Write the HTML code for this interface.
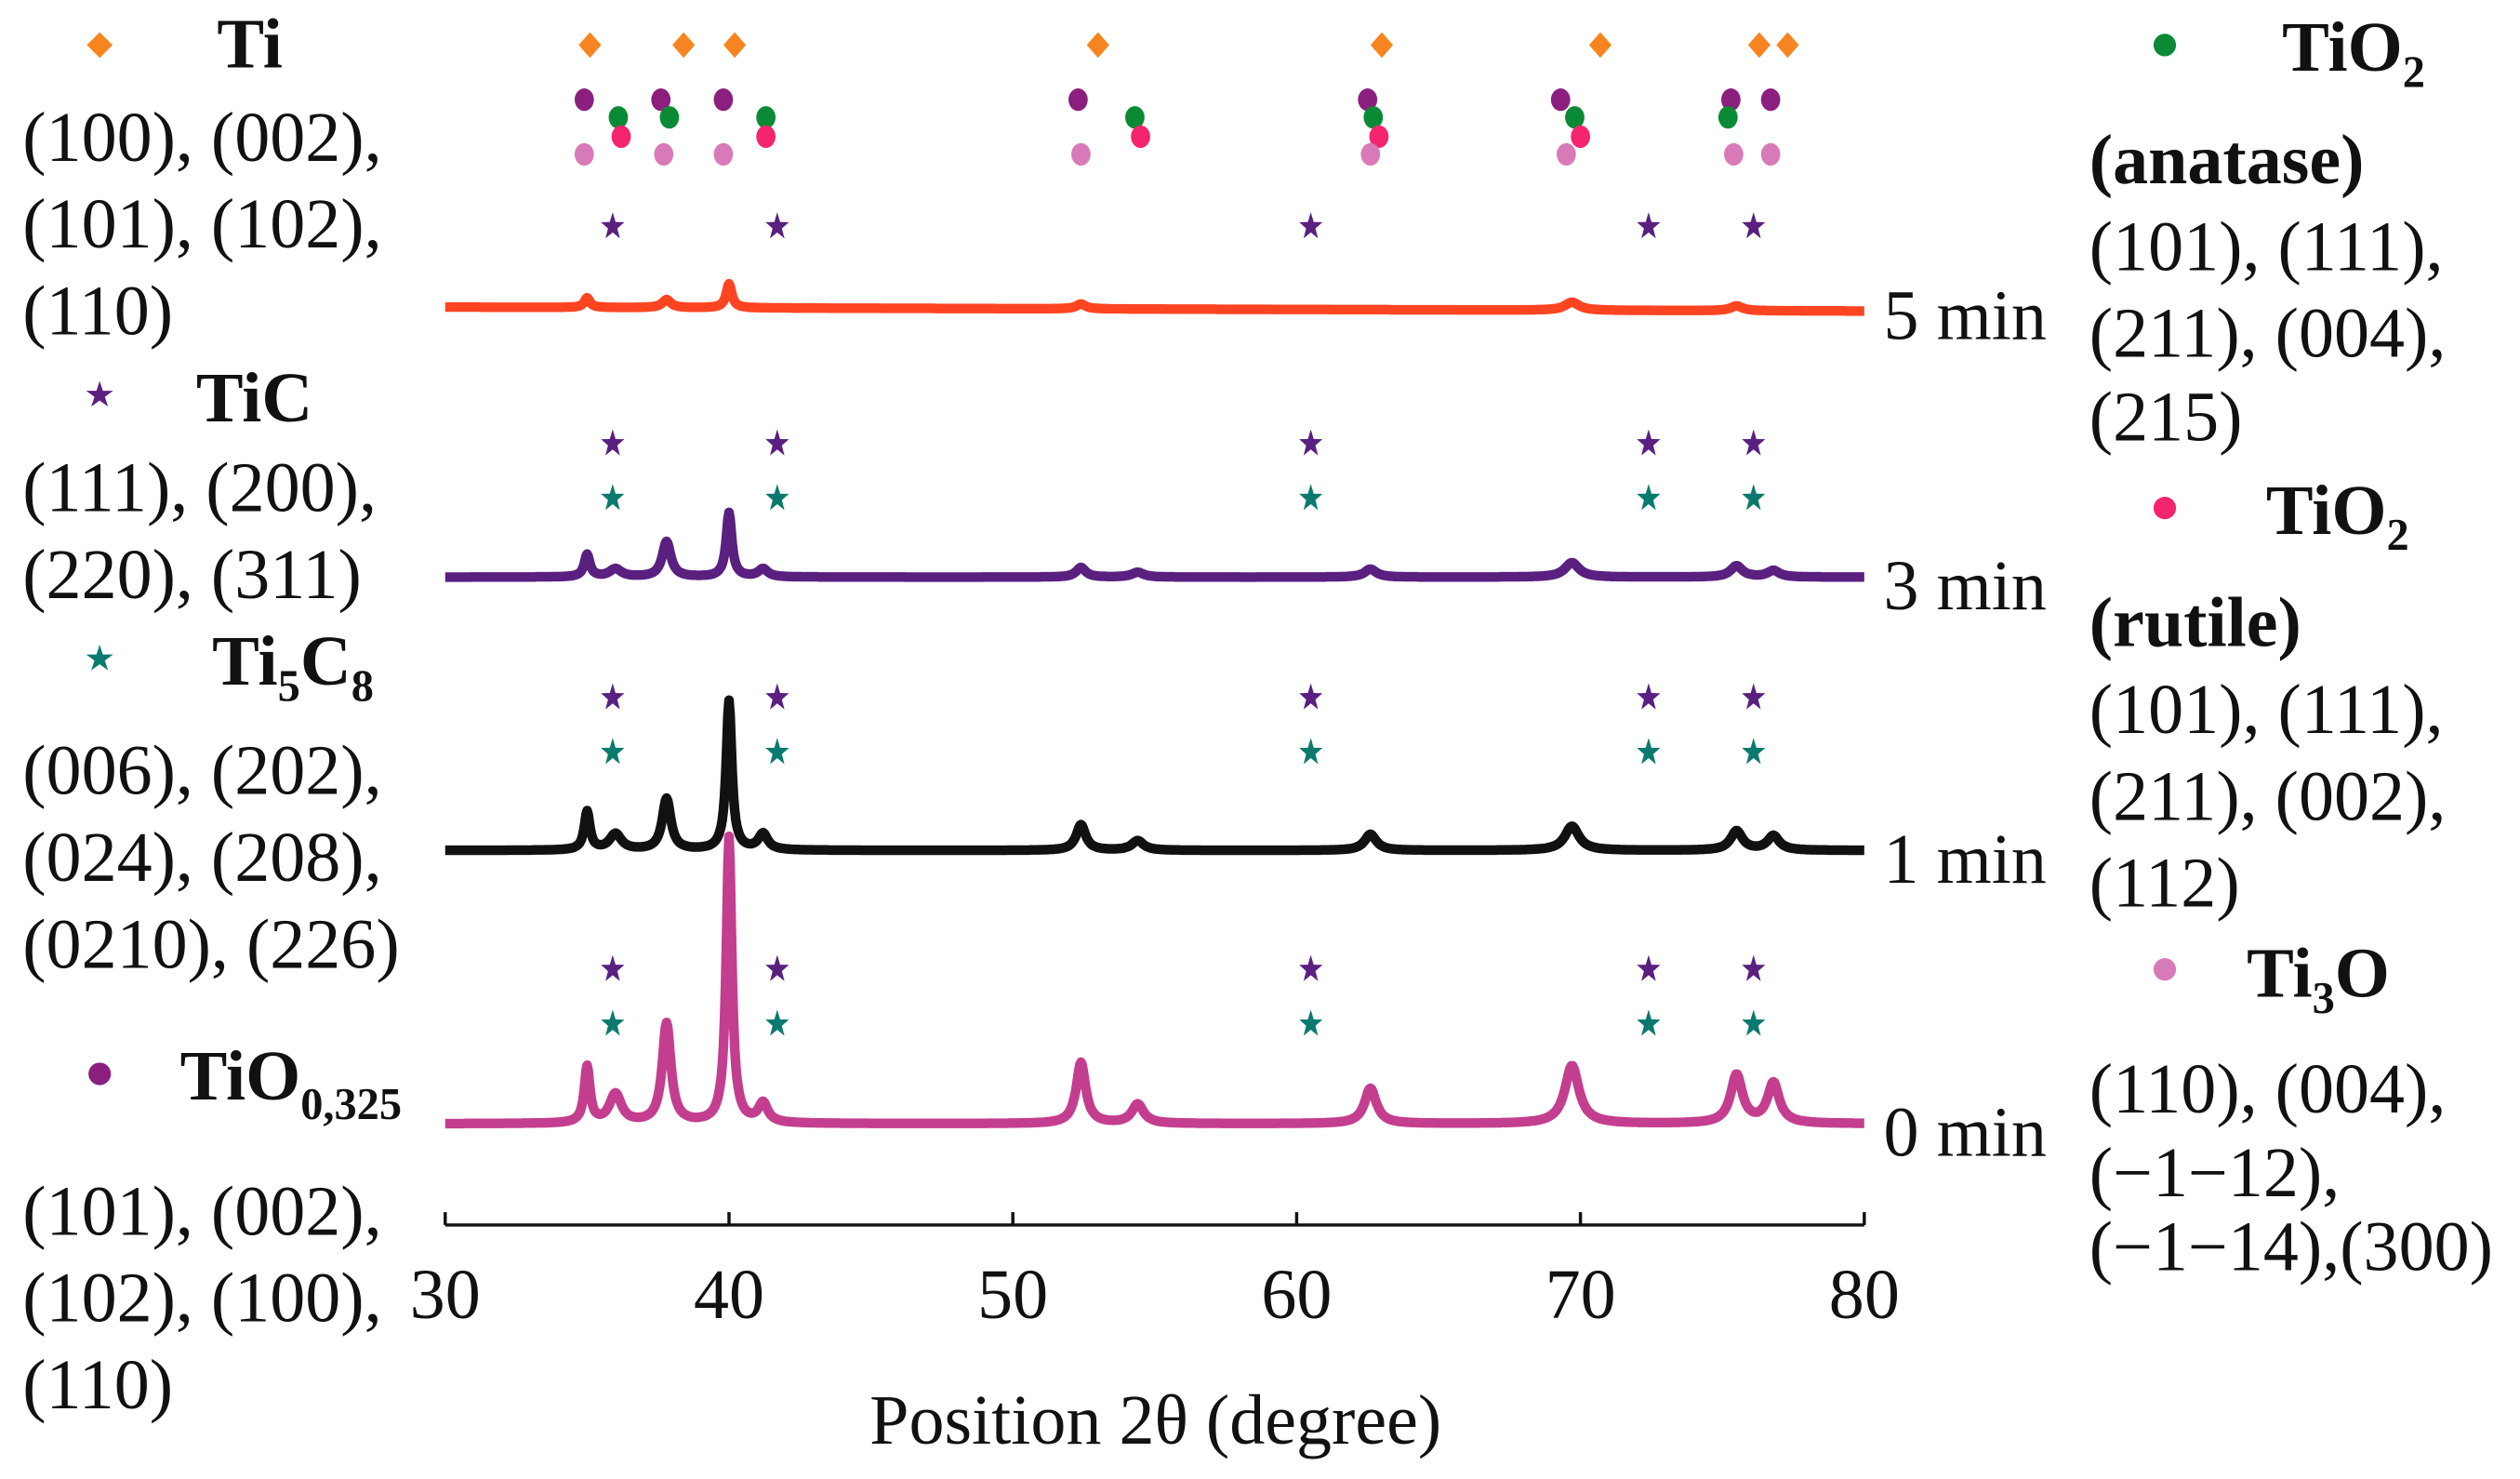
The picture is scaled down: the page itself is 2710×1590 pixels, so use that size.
<!DOCTYPE html>
<html><head><meta charset="utf-8"><style>
html,body{margin:0;padding:0;background:#fff}
svg{display:block}
text{font-family:"Liberation Serif",serif;fill:#111}
.b{font-weight:bold}
</style></head><body>
<svg id="c" width="2710" height="1590" viewBox="0 0 1568 920" xmlns="http://www.w3.org/2000/svg">
<g id="traces"></g>
<g id="markers"></g>
<g id="axis"></g>
<text x="719" y="898" font-size="44" text-anchor="middle">Position 2θ (degree)</text>

<g font-size="44">
<path d="M62 20 L70 28 L62 36 L54 28Z" fill="#f7851f"/>
<text x="135" y="42" class="b">Ti</text>
<text x="14" y="100">(100), (002),</text>
<text x="14" y="154">(101), (102),</text>
<text x="14" y="208">(110)</text>
<text x="62" y="253" font-size="22" text-anchor="middle" style="fill:#5a2080">★</text>
<text x="122" y="262" class="b">TiC</text>
<text x="14" y="318">(111), (200),</text>
<text x="14" y="372">(220), (311)</text>
<text x="62" y="417" font-size="22" text-anchor="middle" style="fill:#0b7a6e">★</text>
<text x="132" y="426" class="b">Ti<tspan font-size="28" dy="10">5</tspan><tspan dy="-10">C</tspan><tspan font-size="28" dy="10">8</tspan></text>
<text x="14" y="494">(006), (202),</text>
<text x="14" y="548">(024), (208),</text>
<text x="14" y="602">(0210), (226)</text>
<circle cx="62" cy="668" r="7" fill="#8b1f7e"/>
<text x="112" y="684" class="b">TiO<tspan font-size="28" dy="12">0,325</tspan></text>
<text x="14" y="768">(101), (002),</text>
<text x="14" y="822">(102), (100),</text>
<text x="14" y="876">(110)</text>
</g>

<g font-size="44">
<circle cx="1347" cy="28" r="7" fill="#0a8a35"/>
<text x="1420" y="44" class="b">TiO<tspan font-size="28" dy="10">2</tspan></text>
<text x="1300" y="114" class="b">(anatase)</text>
<text x="1300" y="168">(101), (111),</text>
<text x="1300" y="222">(211), (004),</text>
<text x="1300" y="274">(215)</text>
<circle cx="1347" cy="316" r="7" fill="#f4246e"/>
<text x="1410" y="332" class="b">TiO<tspan font-size="28" dy="10">2</tspan></text>
<text x="1300" y="402" class="b">(rutile)</text>
<text x="1300" y="456">(101), (111),</text>
<text x="1300" y="510">(211), (002),</text>
<text x="1300" y="564">(112)</text>
<circle cx="1347" cy="603" r="7" fill="#d97ab8"/>
<text x="1398" y="620" class="b">Ti<tspan font-size="28" dy="10">3</tspan><tspan dy="-10">O</tspan></text>
<text x="1300" y="692">(110), (004),</text>
<text x="1300" y="744">(−1−12),</text>
<text x="1300" y="790">(−1−14),(300)</text>
</g>
</svg>
<script>
const NS="http://www.w3.org/2000/svg";
const xTicks=[30,40,50,60,70,80];
const peakPos=[35.0,36.0,37.8,40.0,41.2,52.4,54.4,62.6,69.7,75.5,76.8];
const peakWidth=[0.12,0.25,0.18,0.12,0.2,0.2,0.25,0.25,0.3,0.25,0.25];
const seriesNames=["5 min","3 min","1 min","0 min"];
const seriesBase=[191,359,529,699];
const h5=[6,0,5,15,0,3,0,0,5,3,0];
const h3=[14,5,22,40,5,6,3,5,9,7,4];
const h1=[24,10,32,93,10,16,6,10,15,12,9];
const h0=[35,18,62,178,12,38,12,22,36,30,25];
const seriesHeights=[h5,h3,h1,h0];
const seriesColors=["#ff4422","#5a2080","#111111","#c43e8f"];
const tiPos=[35.1,38.4,40.2,53.0,63.0,70.7,76.3,77.3];
const tioPos=[34.9,37.6,39.8,52.3,62.5,69.3,75.3,76.7];
const anatasePos=[36.1,37.9,41.3,54.3,62.7,69.8,75.2];
const rutilePos=[36.2,41.3,54.5,62.9,70.0];
const ti3oPos=[34.9,37.7,39.8,52.4,62.6,69.5,75.4,76.7];
const ticPos=[35.9,41.7,60.5,72.4,76.1];
const ticRows=[141,276,434,603];
const ti5c8Rows=[310,468,637];
const X=v=>277+(v-30)*(1160-277)/50;
const axisY=762;
function el(t,a,p){const e=document.createElementNS(NS,t);for(const k in a)e.setAttribute(k,a[k]);p.appendChild(e);return e;}
const ax=document.getElementById('axis');
const al=el('line',{x1:X(30),x2:X(80),y1:axisY,y2:axisY,stroke:'#111','stroke-width':2},ax);


xTicks.forEach(t=>{
 const tk=el('line',{x1:X(t),x2:X(t),y1:axisY,y2:axisY-8,stroke:'#111','stroke-width':2},ax);
 
 
 const tl=el('text',{x:X(t),y:820,'font-size':44,'text-anchor':'middle'},ax);
 tl.textContent=t;
 
 
});
const tr=document.getElementById('traces');
seriesNames.forEach((n,i)=>{
 let d="";
 for(let v=30;v<=80.001;v+=0.04){
  let y=seriesBase[i]+(i==0?(v-30)*0.05:0);
  peakPos.forEach((c,j)=>{const w=peakWidth[j];y-=seriesHeights[i][j]*w*w/((v-c)*(v-c)+w*w);});
  d+=(d?"L":"M")+X(v).toFixed(1)+" "+y.toFixed(1);
 }
 const p=el('path',{d:d,fill:'none',stroke:seriesColors[i],'stroke-width':6,'stroke-linejoin':'round'},tr);
 
 
 const lb=el('text',{x:1172,y:seriesBase[i]+20,'font-size':44},tr);
 lb.textContent=n;
 
 
});
const mk=document.getElementById('markers');
function dots(arr,y,col,name){arr.forEach(v=>{const c=el('ellipse',{cx:X(v),cy:y,rx:6,ry:7,fill:col},mk);
 
 });}
tiPos.forEach(v=>{const x=X(v);const p=el('path',{d:`M${x} 20 L${x+7} 28 L${x} 36 L${x-7} 28Z`,fill:'#f7851f'},mk);
 
 });
dots(tioPos,62,'#8b1f7e','tio-marker');
dots(anatasePos,73,'#0a8a35','anatase-marker');
dots(rutilePos,85,'#f4246e','rutile-marker');
dots(ti3oPos,96,'#d97ab8','ti3o-marker');
function star(x,y,col,name){let d="";for(let k=0;k<10;k++){const r=k%2?3.6:9,a=-Math.PI/2+k*Math.PI/5;d+=(k?"L":"M")+(x+r*Math.cos(a)*0.85).toFixed(1)+" "+(y+r*Math.sin(a)).toFixed(1);}
 const p=el('path',{d:d+"Z",fill:col},mk);
 
 }
ticRows.forEach(y=>ticPos.forEach(v=>star(X(v),y,'#5a2080','tic-marker')));
ti5c8Rows.forEach(y=>ticPos.forEach(v=>star(X(v),y,'#0b7a6e','ti5c8-marker')));
</script>
</body></html>
